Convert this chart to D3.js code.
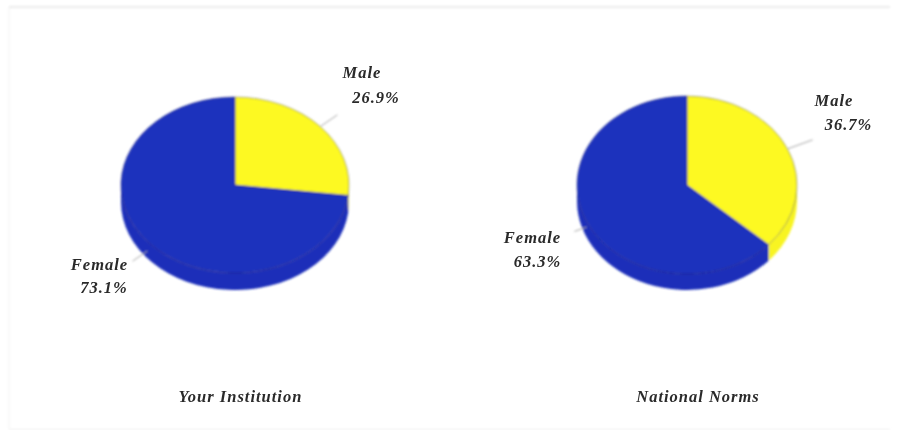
<!DOCTYPE html>
<html><head><meta charset="utf-8">
<script src="https://cdn.jsdelivr.net/npm/d3@7"></script>
<style>html,body{margin:0;padding:0;background:#fff;overflow:hidden}
text{font-family:"Liberation Serif",serif;font-weight:bold;font-style:italic;fill:#2a2a2a;font-size:16.5px}</style>
</head><body><svg id="c" width="897" height="430"></svg>
<script>
const categories = ["Male", "Female"];
const institutionValues = [26.9, 73.1];
const normsValues = [36.7, 63.3];
const chartTitles = ["Your Institution", "National Norms"];

const colors = d3.scaleOrdinal(categories, ["#fdf922", "#1b30bd"]);
const wallColors = d3.scaleOrdinal(categories, ["#f8f424", "#1b2fb9"]);
const svg = d3.select("#c");

const defs = svg.append("defs");
defs.append("filter").attr("id","soft").attr("x","-5%").attr("y","-5%").attr("width","110%").attr("height","110%")
  .append("feGaussianBlur").attr("stdDeviation",0.8);
defs.append("filter").attr("id","softT").attr("x","-5%").attr("y","-20%").attr("width","110%").attr("height","140%")
  .append("feGaussianBlur").attr("stdDeviation",0.6);

const root = svg.append("g").attr("filter","url(#soft)");
root.append("path").attr("d",d3.line()([[9,7],[890,7]])).attr("fill","none").attr("stroke","#e4e4e4").attr("stroke-width",1.4);
root.append("path").attr("d",d3.line()([[9,7],[9,429]])).attr("fill","none").attr("stroke","#f2f2f2");
root.append("path").attr("d",d3.line()([[9,429.5],[890,429.5]])).attr("fill","none").attr("stroke","#eeeeee");

const layouts = [
 {cx:235, cy:185, rx:114, ry:88, depth:17, titleX:240.5, titleY:402,
  labels:{Male:{nx:362,ny:78,px:376,py:103,lineIn:1,lineOut:1.2}, Female:{nx:99.5,ny:270,px:104,py:293,lineIn:1.03,lineOut:1.2}}},
 {cx:687, cy:185, rx:110, ry:89, depth:16, titleX:698, titleY:402,
  labels:{Male:{nx:834,ny:106,px:848.5,py:130,lineIn:1,lineOut:1.25}, Female:{nx:532.5,ny:243,px:537.5,py:267,lineIn:1.0,lineOut:1.12}}}
];

function drawPie(values, title, L){
  const g = root.append("g");
  const slices = d3.pie().sort(null).value(d=>d.value)(categories.map((name,i)=>({name,value:values[i]})));
  const px = a => L.cx + L.rx*Math.sin(a);
  const py = a => L.cy - L.ry*Math.cos(a);
  const lo = Math.PI/2, hi = 3*Math.PI/2;
  slices.forEach(s=>{
    const a0 = Math.max(s.startAngle, lo), a1 = Math.min(s.endAngle, hi);
    if(a1<=a0) return;
    const arcTo=(a,sweep)=>`A${L.rx},${L.ry} 0 ${Math.abs(a1-a0)>Math.PI?1:0} ${sweep} ${px(a)},${py(a)+(sweep?0:L.depth)}`;
    g.append("path")
      .attr("d",`M${px(a0)},${py(a0)}${arcTo(a1,1)}L${px(a1)},${py(a1)+L.depth}${arcTo(a0,0)}Z`)
      .attr("fill",wallColors(s.data.name));
  });
  const top = g.append("g").attr("transform",`translate(${L.cx},${L.cy}) scale(1,${L.ry/L.rx})`);
  const arc = d3.arc().innerRadius(0).outerRadius(L.rx);
  top.selectAll("path.top").data(slices).join("path").attr("class","top")
    .attr("d",arc).attr("fill",d=>colors(d.data.name))
    .attr("stroke","#1c1d60").attr("stroke-width",0.7).attr("stroke-opacity",.6).attr("vector-effect","non-scaling-stroke");
  const tg = svg.append("g").attr("filter","url(#softT)");
  slices.forEach(s=>{
    const m=(s.startAngle+s.endAngle)/2, P=L.labels[s.data.name];
    root.append("line")
      .attr("x1",L.cx+L.rx*P.lineIn*Math.sin(m)).attr("y1",L.cy-L.ry*P.lineIn*Math.cos(m)+(m>lo?6:0))
      .attr("x2",L.cx+L.rx*P.lineOut*Math.sin(m)).attr("y2",L.cy-L.ry*P.lineOut*Math.cos(m)+(m>lo?6:0))
      .attr("stroke","#a6a6a6").attr("stroke-width",1);
    tg.append("text").attr("x",P.nx).attr("y",P.ny).attr("text-anchor","middle").attr("letter-spacing",1).text(s.data.name);
    tg.append("text").attr("x",P.px).attr("y",P.py).attr("text-anchor","middle").attr("letter-spacing",1).text(d3.format(".1f")(s.value)+"%");
  });
  tg.append("text").attr("x",L.titleX).attr("y",L.titleY).attr("text-anchor","middle").attr("letter-spacing",1).text(title);
}
drawPie(institutionValues, chartTitles[0], layouts[0]);
drawPie(normsValues, chartTitles[1], layouts[1]);
</script></body></html>
